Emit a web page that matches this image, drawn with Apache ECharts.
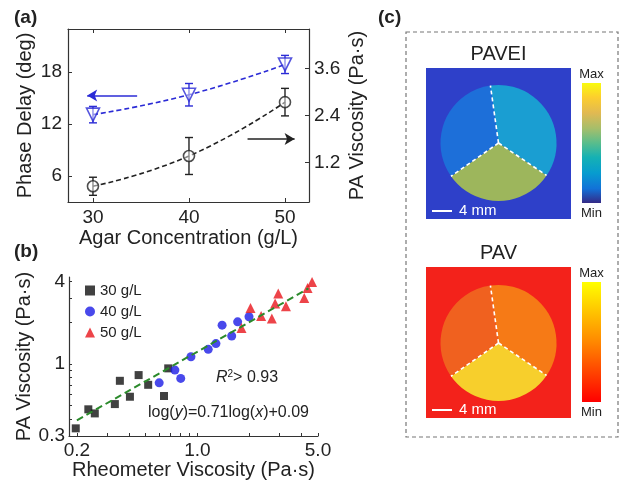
<!DOCTYPE html>
<html><head><meta charset="utf-8">
<script src="https://cdn.jsdelivr.net/npm/echarts@6/dist/echarts.min.js"></script>
<style>html,body{margin:0;padding:0;background:#fff}#c{width:622px;height:485px}</style>
</head><body><div id="c"></div>
<script>
const FONT = '"Liberation Sans", Arial, sans-serif';
// ---------- Panel (a) ----------
const agarConc = [30, 40, 50];
const phaseDelay = [13.1, 15.4, 18.9];
const phaseDelayErr = [0.95, 1.3, 1.05];
const paViscA = [0.60, 1.37, 2.74];
const paViscAErr = [0.23, 0.47, 0.35];
const leftTicksA = [6, 12, 18];
const rightTicksA = [1.2, 2.4, 3.6];
const blueArrow = [[34.6, 15.3], [29.4, 15.3]];
const blackArrow = [[46.1, 1.80], [51.0, 1.80]];
// ---------- Panel (b) ----------
const rheo30 = [0.197, 0.233, 0.254, 0.332, 0.355, 0.406, 0.456, 0.518, 0.64, 0.677];
const pa30   = [0.341, 0.469, 0.438, 0.512, 0.756, 0.579, 0.832, 0.707, 0.586, 0.931];
const rheo40 = [0.60, 0.74, 0.80, 0.917, 1.155, 1.28, 1.39, 1.58, 1.71, 1.99];
const pa40   = [0.731, 0.905, 0.787, 1.13, 1.28, 1.41, 1.92, 1.60, 2.03, 2.21];
const rheo50 = [1.80, 2.03, 2.34, 2.70, 2.82, 2.94, 3.26, 4.16, 4.35, 4.62];
const pa50   = [1.83, 2.56, 2.24, 2.15, 2.76, 3.26, 2.64, 3.03, 3.58, 3.96];
const fitX = [0.2, 4.4];
const fitY = [0.39, 3.55];
const xLabelsB = [0.2, 1.0, 5.0];
const xTicksB = [0.2,0.3,0.4,0.5,0.6,0.7,0.8,0.9,1,2,3,4,5];
const yLabelsB = [0.3, 1, 4];
const yTicksB = [0.3,0.4,0.5,0.6,0.7,0.8,0.9,1,2,3,4];
// ---------- Panel (c) ----------
const sliceNames = ['right', 'bottom', 'left'];
const sliceAngles = [132, 111, 117];
const sliceStart = 98;
const paveiColors = ['#1a9ed2', '#9db65c', '#1d6fd9'];
const pavColors = ['#f67a16', '#f7cf2c', '#f0611f'];

const zip = (a, b) => a.map((v, i) => [v, b[i]]);
const AX = '#333';

function errBar(xs, ys, es, color, yIdx) {
  return {
    type: 'custom', xAxisIndex: 0, yAxisIndex: yIdx, z: 3, silent: true,
    data: xs.map((x, i) => [x, ys[i] - es[i], ys[i] + es[i]]),
    renderItem: (params, api) => {
      const lo = api.coord([api.value(0), api.value(1)]);
      const hi = api.coord([api.value(0), api.value(2)]);
      const w = 4, st = {stroke: color, lineWidth: 1.4};
      return {type: 'group', children: [
        {type: 'line', shape: {x1: lo[0], y1: lo[1], x2: hi[0], y2: hi[1]}, style: st},
        {type: 'line', shape: {x1: lo[0]-w, y1: lo[1], x2: lo[0]+w, y2: lo[1]}, style: st},
        {type: 'line', shape: {x1: hi[0]-w, y1: hi[1], x2: hi[0]+w, y2: hi[1]}, style: st}
      ]};
    }
  };
}

const tickLab = {fontFamily: FONT, fontSize: 19, color: '#222'};
const nameSt = {fontFamily: FONT, fontSize: 20, color: '#222'};
function axLine(show){ return {show: show, lineStyle: {color: AX, width: 1.2}}; }

const chart = echarts.init(document.getElementById('c'), null, {renderer: 'canvas'});

// pie divider lines & panel (c) graphics
const pies = [{cy: 143, colors: paveiColors, title: 'PAVEI', top: 68}, {cy: 343, colors: pavColors, title: 'PAV', top: 267}];
const cx = 498.5, R = 58;
const graphics = [];
graphics.push({type: 'text', left: 14, top: 8, style: {text: '(a)', font: 'bold 19px ' + FONT, fill: '#222'}});
graphics.push({type: 'text', left: 14, top: 242, style: {text: '(b)', font: 'bold 19px ' + FONT, fill: '#222'}});
graphics.push({type: 'text', left: 378, top: 8, style: {text: '(c)', font: 'bold 19px ' + FONT, fill: '#222'}});
graphics.push({type: 'rect', shape: {x: 406, y: 32, width: 212, height: 405}, style: {fill: 'none', stroke: '#777', lineWidth: 1.2, lineDash: [4, 3]}, z: 1});
pies.forEach((p, k) => {
  const bg = k === 0 ? '#2e40c9' : '#f3221b';
  graphics.push({type: 'rect', shape: {x: 426, y: p.top, width: 145, height: 151}, style: {fill: bg}, z: 1});
  graphics.push({type: 'text', x: 498.5, y: p.top - 14, style: {text: p.title, font: '20px ' + FONT, fill: '#222', align: 'center', verticalAlign: 'middle'}, z: 5});
  // dividers
  let a = sliceStart;
  const bounds = [a];
  sliceAngles.forEach(s => { a -= s; bounds.push(a); });
  bounds.slice(0, 3).forEach(deg => {
    const r = deg * Math.PI / 180;
    graphics.push({type: 'line', shape: {x1: cx, y1: p.cy, x2: cx + R * Math.cos(r), y2: p.cy - R * Math.sin(r)},
      style: {stroke: '#fff', lineWidth: 1.6, lineDash: [4, 3]}, z: 10});
  });
  // scale bar
  const sy = p.top + 143;
  graphics.push({type: 'line', shape: {x1: 432, y1: sy, x2: 452, y2: sy}, style: {stroke: '#fff', lineWidth: 2}, z: 10});
  graphics.push({type: 'text', x: 459, y: sy, style: {text: '4 mm', font: '15px ' + FONT, fill: '#fff', verticalAlign: 'middle'}, z: 10});
  // colorbar
  const stops = k === 0
    ? [[0,'#f9fb0e'],[0.12,'#fcce2e'],[0.25,'#e1b952'],[0.38,'#a5be6b'],[0.5,'#59bd8c'],[0.62,'#15b1b4'],[0.75,'#079ccf'],[0.88,'#1272d8'],[1,'#352a87']]
    : [[0,'#ffff00'],[0.5,'#ff8800'],[1,'#ff0000']];
  graphics.push({type: 'rect', shape: {x: 582, y: p.top + 15, width: 19, height: 120},
    style: {fill: new echarts.graphic.LinearGradient(0, 0, 0, 1, stops.map(s => ({offset: s[0], color: s[1]})))}, z: 5});
  graphics.push({type: 'text', x: 591.5, y: p.top + 6, style: {text: 'Max', font: '13px ' + FONT, fill: '#222', align: 'center', verticalAlign: 'middle'}, z: 5});
  graphics.push({type: 'text', x: 591.5, y: p.top + 145, style: {text: 'Min', font: '13px ' + FONT, fill: '#222', align: 'center', verticalAlign: 'middle'}, z: 5});
});
// panel (b) annotations
graphics.push({type: 'text', x: 216, y: 378, style: {
  text: '{i|R}{s|2}{n|> 0.93}', verticalAlign: 'middle',
  rich: {i: {font: 'italic 16px ' + FONT, fill: '#222'}, s: {font: '10px ' + FONT, fill: '#222', verticalAlign: 'top', padding: [0,0,8,0]}, n: {font: '16px ' + FONT, fill: '#222'}}}, z: 5});
graphics.push({type: 'text', x: 148, y: 413, style: {
  text: '{n|log(}{i|y}{n|)=0.71log(}{i|x}{n|)+0.09}', verticalAlign: 'middle',
  rich: {i: {font: 'italic 16px ' + FONT, fill: '#222'}, n: {font: '16px ' + FONT, fill: '#222'}}}, z: 5});

const option = {
  animation: false,
  backgroundColor: '#fff',
  textStyle: {fontFamily: FONT},
  graphic: graphics,
  grid: [
    {left: 68, right: 313, top: 29, bottom: 283},
    {left: 69, right: 304, top: 277, bottom: 49}
  ],
  legend: {
    orient: 'vertical', left: 80, top: 278, itemGap: 6, itemWidth: 10, itemHeight: 10,
    textStyle: {fontFamily: FONT, fontSize: 15, color: '#222'},
    data: [{name: '30 g/L', icon: 'rect'}, {name: '40 g/L', icon: 'circle'}, {name: '50 g/L', icon: 'triangle'}]
  },
  xAxis: [
    {gridIndex: 0, type: 'value', min: 27.4, max: 52.5, position: 'bottom',
      axisLine: axLine(true), splitLine: {show: false},
      axisTick: {inside: true, length: 4, customValues: agarConc, lineStyle: {color: AX}},
      axisLabel: {customValues: agarConc, ...tickLab, margin: 6},
      name: 'Agar Concentration (g/L)', nameLocation: 'middle', nameGap: 26, nameTextStyle: nameSt},
    {gridIndex: 0, type: 'value', min: 27.4, max: 52.5, position: 'top',
      axisLine: axLine(true), splitLine: {show: false},
      axisTick: {inside: true, length: 4, customValues: agarConc, lineStyle: {color: AX}},
      axisLabel: {show: false}},
    {gridIndex: 1, type: 'log', logBase: 10, min: 0.18, max: 5.0,
      axisLine: axLine(true), splitLine: {show: false},
      axisTick: {inside: true, length: 3, customValues: xTicksB, lineStyle: {color: AX}},
      axisLabel: {customValues: xLabelsB, formatter: v => Number(v).toFixed(1), ...tickLab, margin: 5},
      name: 'Rheometer Viscosity (Pa·s)', nameLocation: 'middle', nameGap: 22, nameTextStyle: nameSt}
  ],
  yAxis: [
    {gridIndex: 0, type: 'value', min: 3, max: 23, position: 'left',
      axisLine: axLine(true), splitLine: {show: false},
      axisTick: {inside: true, length: 4, customValues: leftTicksA, lineStyle: {color: AX}},
      axisLabel: {customValues: leftTicksA, ...tickLab, margin: 6},
      name: 'Phase Delay (deg)', nameLocation: 'middle', nameGap: 33, nameRotate: 90, nameTextStyle: nameSt},
    {gridIndex: 0, type: 'value', min: 0.2, max: 4.6, position: 'right',
      axisLine: axLine(true), splitLine: {show: false},
      axisTick: {inside: true, length: 4, customValues: rightTicksA, lineStyle: {color: AX}},
      axisLabel: {customValues: rightTicksA, ...tickLab, margin: 5},
      name: 'PA Viscosity (Pa·s)', nameLocation: 'middle', nameGap: 38, nameRotate: 90, nameTextStyle: nameSt},
    {gridIndex: 1, type: 'log', logBase: 10, min: 0.3, max: 4.3,
      axisLine: axLine(true), splitLine: {show: false},
      axisTick: {inside: true, length: 3, customValues: yTicksB, lineStyle: {color: AX}},
      axisLabel: {customValues: yLabelsB, formatter: v => String(Number(v)), ...tickLab, margin: 4},
      name: 'PA Viscosity (Pa·s)', nameLocation: 'middle', nameGap: 32, nameRotate: 90, nameTextStyle: nameSt}
  ],
  series: [
    {type: 'line', xAxisIndex: 0, yAxisIndex: 0, data: zip(agarConc, phaseDelay), smooth: true, symbol: 'none',
      lineStyle: {color: '#2b2bd6', width: 1.6, type: [5, 3]}, z: 2, silent: true,
      markLine: {silent: true, symbol: ['none', 'arrow'], symbolSize: [9, 10], label: {show: false},
        lineStyle: {color: '#2b2bd6', width: 1.6, type: 'solid'},
        data: [[{coord: blueArrow[0]}, {coord: blueArrow[1]}]]}},
    {type: 'line', xAxisIndex: 0, yAxisIndex: 1, data: zip(agarConc, paViscA), smooth: true, symbol: 'none',
      lineStyle: {color: '#222', width: 1.6, type: [5, 3]}, z: 2, silent: true,
      markLine: {silent: true, symbol: ['none', 'arrow'], symbolSize: [9, 10], label: {show: false},
        lineStyle: {color: '#222', width: 1.6, type: 'solid'},
        data: [[{coord: blackArrow[0]}, {coord: blackArrow[1]}]]}},
    errBar(agarConc, phaseDelay, phaseDelayErr, '#2b2bd6', 0),
    errBar(agarConc, paViscA, paViscAErr, '#222', 1),
    {type: 'scatter', xAxisIndex: 0, yAxisIndex: 0, data: zip(agarConc, phaseDelay), symbol: 'triangle', symbolRotate: 180,
      symbolSize: 13, itemStyle: {color: 'rgba(255,255,255,0.6)', borderColor: '#2b2bd6', borderWidth: 1.6}, z: 4},
    {type: 'scatter', xAxisIndex: 0, yAxisIndex: 1, data: zip(agarConc, paViscA), symbol: 'circle',
      symbolSize: 11, itemStyle: {color: 'rgba(255,255,255,0.6)', borderColor: '#222', borderWidth: 1.6}, z: 4},
    {type: 'line', xAxisIndex: 2, yAxisIndex: 2, data: zip(fitX, fitY), symbol: 'none', silent: true,
      lineStyle: {color: '#2b8a2b', width: 2, type: [7, 4]}, z: 3},
    {name: '30 g/L', type: 'scatter', xAxisIndex: 2, yAxisIndex: 2, data: zip(rheo30, pa30), symbol: 'rect', symbolSize: 8,
      itemStyle: {color: '#111'}, z: 2},
    {name: '40 g/L', type: 'scatter', xAxisIndex: 2, yAxisIndex: 2, data: zip(rheo40, pa40), symbol: 'circle', symbolSize: 9,
      itemStyle: {color: '#1c1ce6'}, z: 2},
    {name: '50 g/L', type: 'scatter', xAxisIndex: 2, yAxisIndex: 2, data: zip(rheo50, pa50), symbol: 'triangle', symbolSize: 10,
      itemStyle: {color: '#e8151b'}, z: 2},
    ...pies.map((p, k) => ({
      type: 'pie', center: [cx, p.cy], radius: R, startAngle: sliceStart, clockwise: true, silent: true,
      label: {show: false}, labelLine: {show: false}, z: 5,
      data: sliceNames.map((n, i) => ({name: n, value: sliceAngles[i], itemStyle: {color: p.colors[i], borderWidth: 0}}))
    }))
  ]
};
chart.setOption(option);
</script></body></html>
